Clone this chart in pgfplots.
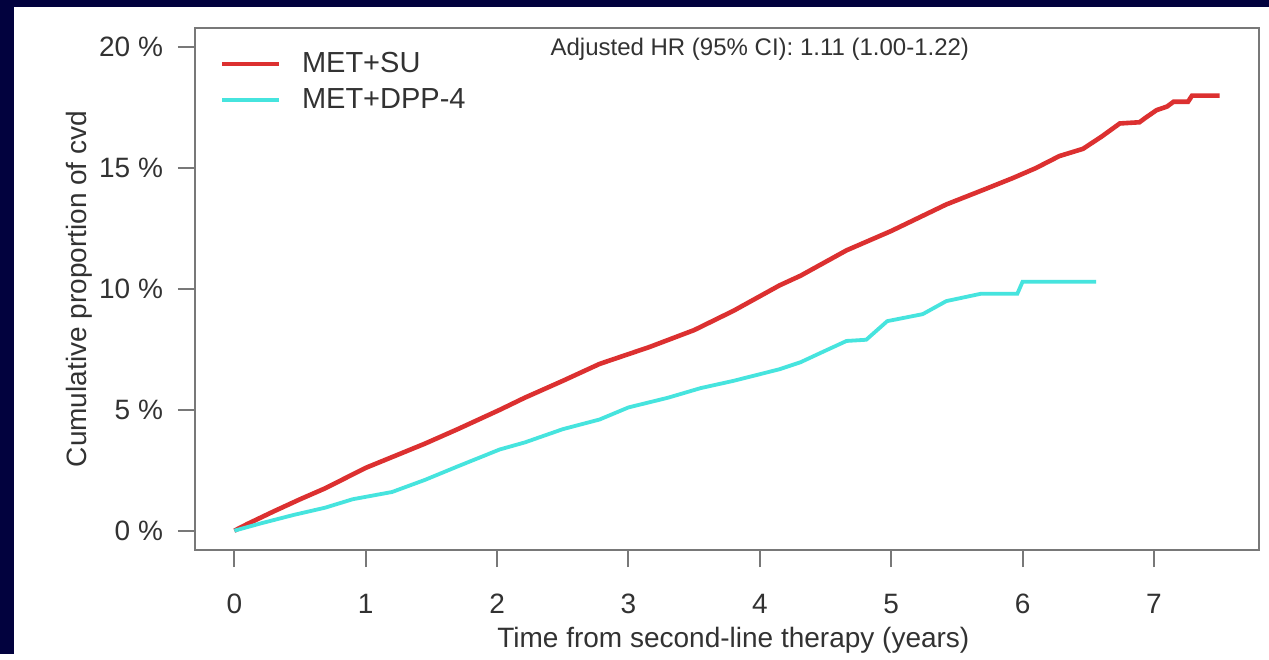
\documentclass[border=0pt]{standalone}
\usepackage{fontspec}
\setmainfont{Liberation Sans}
\usepackage{pgfplots}
\pgfplotsset{compat=1.18}
\definecolor{navy}{RGB}{2,2,62}
\definecolor{kmred}{RGB}{220,48,48}
\definecolor{kmcyan}{RGB}{70,228,222}
\definecolor{axgray}{RGB}{120,120,120}
\definecolor{txt}{RGB}{50,50,50}

% Cumulative incidence of cvd by second-line regimen
\pgfplotstableread{
t p
0 0
0.1 0.28
0.3 0.8
0.5 1.3
0.69 1.75
1.0 2.6
1.45 3.6
1.7 4.2
2.02 5.0
2.21 5.5
2.5 6.2
2.78 6.9
3.16 7.6
3.5 8.3
3.8 9.1
4.15 10.15
4.31 10.55
4.66 11.6
5.0 12.4
5.42 13.5
5.7 14.1
5.93 14.6
6.1 15.0
6.28 15.5
6.46 15.8
6.6 16.3
6.74 16.85
6.89 16.9
6.94 17.1
7.02 17.4
7.1 17.55
7.15 17.75
7.26 17.75
7.29 18.0
7.5 18.0
}\metsu

\pgfplotstableread{
t p
0 0
0.2 0.3
0.45 0.65
0.69 0.95
0.9 1.3
1.2 1.6
1.45 2.1
1.7 2.66
2.02 3.36
2.21 3.65
2.5 4.2
2.78 4.6
3.0 5.1
3.3 5.5
3.55 5.9
3.8 6.2
4.15 6.68
4.31 6.97
4.48 7.4
4.66 7.85
4.81 7.9
4.97 8.67
5.24 8.96
5.42 9.5
5.68 9.8
5.96 9.8
6.0 10.3
6.56 10.3
}\metdpp

\begin{document}
\begin{tikzpicture}
\fill[navy] (0,0) rectangle (634.5pt,327pt);
\fill[white] (7pt,0) rectangle (634.5pt,323.5pt);
\begin{axis}[
  at={(97.5pt,52pt)}, anchor=south west,
  scale only axis, width=532pt, height=261pt,
  xmin=-0.3, xmax=7.8, ymin=-0.8, ymax=20.8,
  axis line style={axgray, line width=1pt},
  tick style={axgray, line width=1pt},
  tick align=outside, major tick length=8.5pt,
  xtick pos=bottom, ytick pos=left,
  xtick={0,...,7}, ytick={0,5,10,15,20},
  /pgf/number format/assume math mode=true,
  yticklabel={\pgfmathprintnumber{\tick} \%},
  ticklabel style={font=\fontsize{14}{16}\selectfont, text=txt},
  yticklabel style={xshift=-4pt},
  xticklabel style={yshift=-10pt},
  xlabel={Time from second-line therapy (years)},
  ylabel={Cumulative proportion of cvd},
  label style={font=\fontsize{14}{16}\selectfont, text=txt},
  xlabel style={at={(axis description cs:0.506,-0.1725)}, anchor=center},
  ylabel style={at={(axis description cs:-0.1090,0.5)}, anchor=center},
  legend style={draw=none, fill=none, at={(axis description cs:0.0175,0.97)},
    anchor=north west, font=\fontsize{14.5}{16}\selectfont, text=txt,
    row sep=2.5pt,
    /tikz/every odd column/.append style={column sep=8.5pt}},
  legend cell align=left,
  legend image code/.code={\draw[#1, line width=2pt] (0pt,0pt) -- (28.5pt,0pt);},
]
\addplot[kmred, line width=2.3pt] table[x=t, y=p] {\metsu};
\addlegendentry{MET+SU}
\addplot[kmcyan, line width=1.9pt] table[x=t, y=p] {\metdpp};
\addlegendentry{MET+DPP-4}
\node[font=\fontsize{12}{14}\selectfont, text=txt] at (axis cs:4,19.9)
  {Adjusted HR (95\% CI): 1.11 (1.00-1.22)};
\end{axis}
\end{tikzpicture}
\end{document}
